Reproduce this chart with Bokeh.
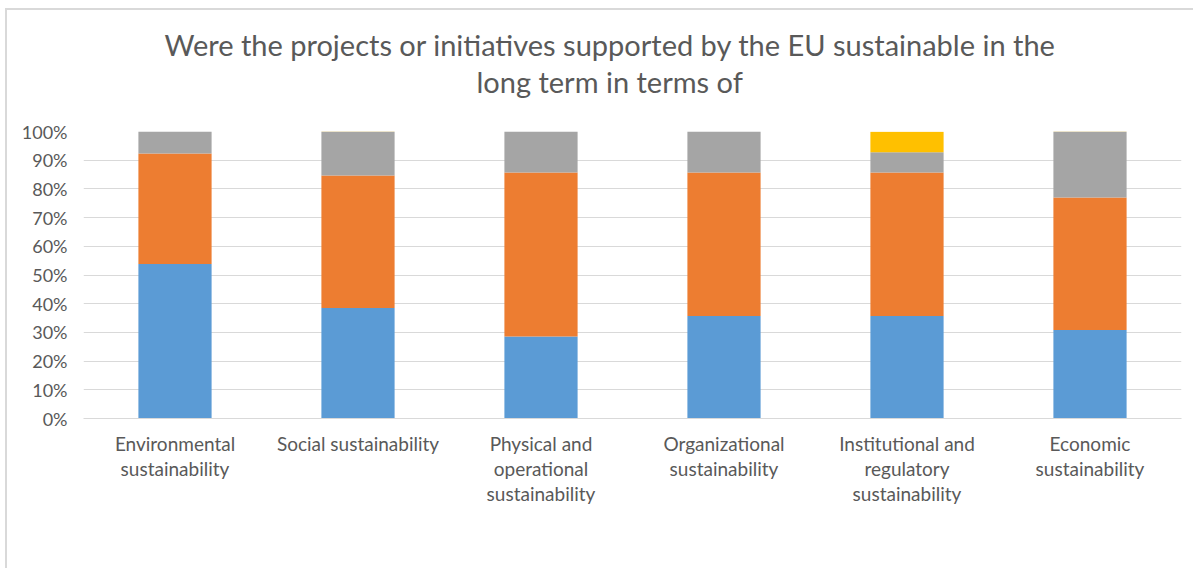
from bokeh.plotting import figure
from bokeh.models import FactorRange, Legend, LegendItem, NumeralTickFormatter, Range1d, ColumnDataSource, FixedTicker, Title
from bokeh.embed import file_html
from bokeh.resources import INLINE

categories = ["Environmental\nsustainability", "Social sustainability",
              "Physical and\noperational\nsustainability", "Organizational\nsustainability",
              "Institutional and\nregulatory\nsustainability", "Economic\nsustainability"]
absolutely = [0.538, 0.385, 0.286, 0.357, 0.357, 0.308]
yes = [0.385, 0.462, 0.571, 0.500, 0.500, 0.462]
partly = [0.077, 0.154, 0.143, 0.143, 0.071, 0.231]
no = [0.0, 0.0, 0.0, 0.0, 0.071, 0.0]
series = ["Absolutely", "yes", "Partly", "no"]
colors = ["#5B9BD5", "#ED7D31", "#A5A5A5", "#FFC000"]
title_lines = ["Were the projects or initiatives supported by the EU sustainable in the",
               "long term in terms of"]

FONT = "Lato"
TXT = "#595959"

source = ColumnDataSource(dict(cat=categories, Absolutely=absolutely, yes=yes, Partly=partly, no=no))

p = figure(x_range=FactorRange(*categories), y_range=Range1d(0, 1),
           frame_width=1098, frame_height=287, output_backend="svg", toolbar_location=None,
           min_border_left=76, min_border_right=12, min_border_top=121, min_border_bottom=20,
           title=None)

p.add_layout(Title(text=" ", text_font_size="1px", standoff=30), "above")
p.add_layout(Title(text=title_lines[1], align="left", text_font=FONT, text_font_size="29px",
                   text_font_style="normal", text_color=TXT, standoff=0, offset=393), "above")
p.add_layout(Title(text=title_lines[0], align="left", text_font=FONT, text_font_size="29px",
                   text_font_style="normal", text_color=TXT, standoff=0, offset=81), "above")

rs = p.vbar_stack(series, x="cat", width=0.4, color=colors, source=source, line_width=0)

legend = Legend(items=[LegendItem(label=s, renderers=[r]) for s, r in zip(series, rs)],
                orientation="horizontal", location="top_center",
                label_text_font=FONT, label_text_font_size="18.5px", label_text_color=TXT,
                glyph_width=11, glyph_height=11, spacing=14, label_standoff=5,
                border_line_color=None, background_fill_alpha=0, margin=20, padding=0)
p.add_layout(legend, "below")

p.outline_line_color = None
p.xgrid.grid_line_color = None
p.ygrid.grid_line_color = "#D9D9D9"
p.ygrid.ticker = FixedTicker(ticks=[i / 10 for i in range(11)])
p.yaxis.ticker = FixedTicker(ticks=[i / 10 for i in range(11)])
p.yaxis.formatter = NumeralTickFormatter(format="0%")
p.yaxis.axis_line_color = None
p.yaxis.major_tick_line_color = None
p.yaxis.minor_tick_line_color = None
p.yaxis.major_label_text_font = FONT
p.yaxis.major_label_text_font_size = "18px"
p.yaxis.major_label_text_color = TXT
p.yaxis.major_label_standoff = 10
p.xaxis.axis_line_color = "#D9D9D9"
p.xaxis.major_tick_line_color = None
p.xaxis.minor_tick_line_color = None
p.xaxis.major_label_text_font = FONT
p.xaxis.major_label_text_font_size = "19px"
p.xaxis.major_label_text_color = TXT
p.xaxis.major_label_text_line_height = 1.1
p.xaxis.major_label_standoff = 7
p.x_range.range_padding = 0
p.styles = {"margin-left": "5px", "margin-top": "8px",
            "border-top": "2px solid #D9D9D9", "border-left": "2px solid #D9D9D9"}

open("out.html", "w").write(file_html(p, INLINE))
